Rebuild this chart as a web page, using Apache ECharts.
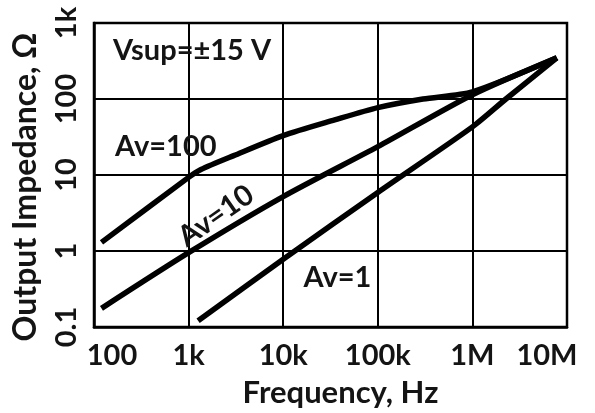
<!DOCTYPE html>
<html>
<head>
<meta charset="utf-8">
<script src="https://cdn.jsdelivr.net/npm/echarts@6/dist/echarts.min.js"></script>
<style>
html,body{margin:0;padding:0;background:#fff;}
#chart{width:595px;height:413px;}
</style>
</head>
<body>
<div id="chart"></div>
<script>
// ---- data ----
const xTickLabels = ['100', '1k', '10k', '100k', '1M', '10M'];
const yTickLabels = ['0.1', '1', '10', '100', '1k'];

const av100Freq = [120, 1000, 1350, 3000, 10000, 35000, 100000, 300000, 1000000, 7800000];
const av100Z    = [1.3, 9.3, 11.8, 18, 33, 53, 77, 100, 124, 348];

const av10Freq = [120, 1000, 10000, 100000, 1000000, 7800000];
const av10Z    = [0.176, 0.95, 5.2, 23.6, 114, 348];

const av1Freq = [1260, 10000, 100000, 1000000, 2260000, 7800000];
const av1Z    = [0.121, 0.78, 5.9, 43, 100, 348];

const annoText   = ['Vsup=\u00B115 V', 'Av=100', 'Av=10', 'Av=1'];
const annoFreq   = [159, 167, 1950, 16400];
const annoZ      = [430, 23.7, 2.9, 0.44];
const annoRotate = [0, 0, 35, 0];
const annoAlign  = ['left', 'left', 'center', 'left'];

// ---- chart ----
const FONT = 'Lato';
const TXT = '#141414';
const FS = 29;       // tick / annotation size
const FS_XNAME = 31; // x title
const FS_YNAME = 32; // y title
const pairs = (xs, ys) => xs.map((x, i) => [x, ys[i]]);

const chart = echarts.init(document.getElementById('chart'), null, {renderer: 'canvas'});

const lineSeries = (name, xs, ys) => ({
  name, type: 'line', data: pairs(xs, ys), showSymbol: false, symbol: 'none',
  smooth: 0.25, lineStyle: {color: '#000', width: 5.5}, z: 5, silent: true
});

chart.setOption({
  animation: false,
  backgroundColor: '#fff',
  grid: {left: 94, right: 28, top: 23, bottom: 85, show: true, borderColor: '#000', borderWidth: 2.5},
  xAxis: {
    type: 'log', logBase: 10, min: 100, max: 1e7, splitNumber: 5,
    name: 'Frequency, Hz', nameLocation: 'middle', nameGap: 50,
    nameTextStyle: {fontFamily: FONT, fontWeight: 'bold', fontSize: FS_XNAME, color: TXT, padding: [0, 0, 0, 20]},
    axisLine: {show: true, lineStyle: {color: '#000', width: 2.5}},
    axisTick: {show: false},
    splitLine: {show: true, lineStyle: {color: '#000', width: 2}},
    axisLabel: {
      margin: 14, fontFamily: FONT, fontWeight: 'bold', fontSize: FS, color: TXT,
      formatter: v => {
        const i = Math.round(Math.log10(v)) - 2;
        const t = xTickLabels[i];
        if (i === 0) return '{first|' + t + '}';
        if (i === xTickLabels.length - 1) return '{last|' + t + '}';
        return t;
      },
      rich: {
        first: {fontFamily: FONT, fontWeight: 'bold', fontSize: FS, color: TXT, padding: [0, 0, 0, 36]},
        last: {fontFamily: FONT, fontWeight: 'bold', fontSize: FS, color: TXT, padding: [0, 40, 0, 0]}
      }
    }
  },
  yAxis: {
    type: 'log', logBase: 10, min: 0.1, max: 1000, splitNumber: 4,
    name: 'Output Impedance, \u03A9', nameLocation: 'middle', nameGap: 52, nameRotate: 90,
    nameTextStyle: {fontFamily: FONT, fontWeight: 'bold', fontSize: FS_YNAME, color: TXT, padding: [0, 24, 0, 0]},
    axisLine: {show: true, lineStyle: {color: '#000', width: 2.5}},
    axisTick: {show: false},
    splitLine: {show: true, lineStyle: {color: '#000', width: 2}},
    axisLabel: {
      rotate: 90, margin: 13, fontFamily: FONT, fontWeight: 'bold', fontSize: FS, color: TXT,
      formatter: v => yTickLabels[Math.round(Math.log10(v)) + 1]
    }
  },
  series: [
    lineSeries('Av=100', av100Freq, av100Z),
    lineSeries('Av=10', av10Freq, av10Z),
    lineSeries('Av=1', av1Freq, av1Z)
  ]
});

const graphics = annoText.map((t, i) => {
  const p = chart.convertToPixel({gridIndex: 0}, [annoFreq[i], annoZ[i]]);
  return {
    type: 'text', x: p[0], y: p[1], rotation: annoRotate[i] * Math.PI / 180, z: 10,
    style: {text: t, fontFamily: FONT, fontWeight: 'bold', fontSize: FS, fill: TXT,
            align: annoAlign[i], verticalAlign: 'middle'}
  };
});
chart.setOption({graphic: graphics});
</script>
</body>
</html>
